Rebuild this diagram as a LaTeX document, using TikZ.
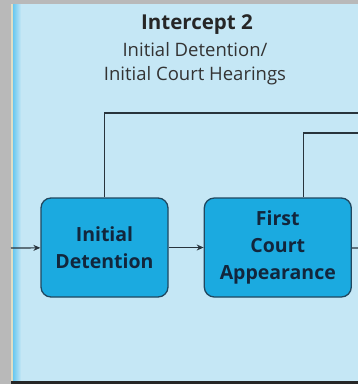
\documentclass[tikz,border=0pt]{standalone}
\usepackage{fontspec}
\setmainfont{Open Sans}
\usetikzlibrary{positioning,arrows.meta}
\definecolor{panelblue}{RGB}{197,231,245}
\definecolor{stripeblue}{RGB}{105,200,240}
\definecolor{boxblue}{RGB}{27,170,224}
\definecolor{boxline}{RGB}{32,72,96}
\definecolor{wire}{RGB}{40,52,60}
\definecolor{navy}{RGB}{18,38,60}
\begin{document}
\begin{tikzpicture}[x=1pt, y=-1pt,
        b/.style={draw=boxline, line width=1.3pt, fill=boxblue, rounded corners=10pt,
            minimum height=99pt, align=center, text=navy,
            font=\bfseries\fontsize{19.5}{27}\selectfont},
        w/.style={draw=wire, line width=1.2pt},
        a/.style={w, -{Stealth[length=7pt,width=6pt]}},
        every node/.style={inner sep=0pt}]
    \useasboundingbox (0,0) rectangle (358,384);
    % panel
    \fill[gray!55] (0,0) rectangle (358,384);
    \fill[panelblue] (11,4) rectangle (358,381);
    \fill[yellow!30!gray!40] (11,4) rectangle (12.5,381);
    \shade[left color=stripeblue, right color=panelblue] (13,4) rectangle (21,381);
    \fill[black!85] (11,381) rectangle (358,384);

    % titles
    \node[anchor=base, text=black!85, font=\bfseries\fontsize{20.5}{24}\selectfont] (title) at (197,29) {Intercept 2};
    \node[anchor=base, text=black!80, font=\fontsize{18.5}{24}\selectfont] (sub1) at (195,56) {Initial Detention/};
    \node[anchor=base, text=black!80, font=\fontsize{18.5}{24}\selectfont] (sub2) at (195,80) {Initial Court Hearings};

    % steps
    \node[b, minimum width=127pt] (detain) at (104.5,247.5) {Initial\\Detention};
    \node[b, minimum width=147pt, right=35pt of detain] (court) {First\\Court\\Appearance};

    % wires
    \coordinate (in) at (11,248);
    \coordinate (top1) at (358,113);
    \coordinate (top2) at (358,133);
    \coordinate (out) at (358,248);
    \draw[a] (in) -- (detain);
    \draw[a] (detain) -- (court);
    \draw[w] (court) -- (out);
    \draw[w] (detain.north) |- (top1);
    \draw[w] ([xshift=25.5pt]court.north) |- (top2);
\end{tikzpicture}
\end{document}
